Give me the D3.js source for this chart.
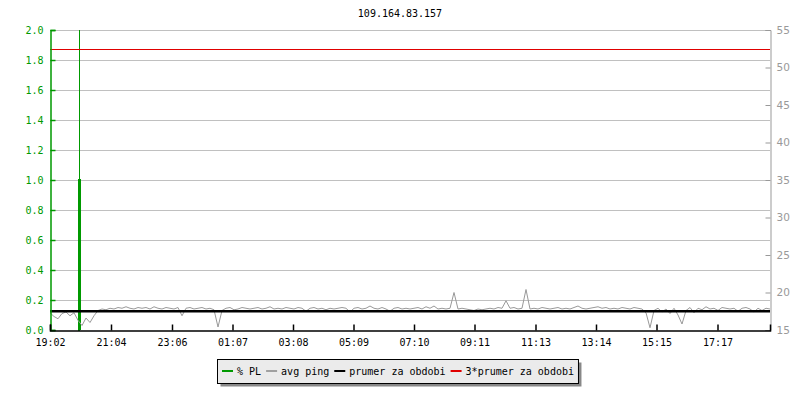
<!DOCTYPE html>
<html>
<head>
<meta charset="utf-8">
<script src="https://cdn.jsdelivr.net/npm/d3@7"></script>
<style>
  body { margin: 0; background: #fff; }
  svg { display: block; }
</style>
</head>
<body>
<svg id="chart"></svg>
<script>
// host being pinged
var title = "109.164.83.157";

// x tick labels (start of graph is 19:02, 24 hours shown)
var timeLabels = ["19:02","21:04","23:06","01:07","03:08","05:09","07:10","09:11","11:13","13:14","15:15","17:17"];

// avg ping in ms, one sample every 8 minutes from start
var pingMs = [
  17.3,16.8,16.5,17.2,17.4,16.9,17.3,16.3,15.6,16.6,16.0,16.9,17.6,17.8,17.7,17.9,17.8,18.0,17.9,18.1,
  17.9,17.8,18.0,17.9,18.0,17.8,18.1,17.9,17.8,18.0,17.9,17.8,18.0,16.9,17.9,18.0,17.8,17.9,18.0,17.8,
  17.9,17.7,15.4,17.6,17.9,18.0,17.7,17.8,18.0,17.9,17.8,17.9,18.0,17.8,17.9,18.1,17.8,17.9,17.8,18.0,
  17.9,17.8,18.0,17.9,17.5,17.9,18.0,17.8,17.9,17.7,17.9,17.8,17.9,18.0,17.9,17.4,17.9,18.0,17.8,17.9,
  18.2,17.9,17.8,18.0,17.8,17.5,17.9,18.0,17.8,17.9,17.8,17.9,18.0,17.8,18.1,17.9,18.2,17.8,17.9,17.8,
  17.9,20.0,17.8,17.9,17.8,17.7,17.6,17.8,17.7,17.8,17.9,17.8,18.0,17.9,18.9,17.9,18.0,17.8,17.9,20.4,
  17.8,17.9,17.8,18.0,17.9,17.8,17.9,18.0,17.8,17.9,17.8,18.0,18.2,17.9,17.8,17.9,18.0,18.1,17.9,18.0,
  17.8,17.9,17.8,18.0,17.9,17.8,18.0,17.9,17.8,17.3,15.3,17.6,17.9,17.4,17.8,17.2,17.9,17.0,15.8,17.6,
  18.0,17.3,17.9,17.7,18.1,17.8,17.9,17.6,18.0,17.9,17.8,17.9,17.5,17.9,18.0,17.8,17.4,17.9,17.6,17.9,
  17.8
];
var pingStep = 8;

// packet loss (fraction) samples: minute, value
var plMinutes = [56, 58, 60];
var plValues  = [0, 1.0, 0];
// total loss event (full height rule)
var plEvents = [58];

var avgPing = 17.49;
var avgPing3 = 52.47;

var legendNames = ["% PL", "avg ping", "prumer za obdobi", "3*prumer za obdobi"];
var legendColors = ["#009900", "#a0a0a0", "#000000", "#e00000"];

var W = 800, H = 400;
var mono = "'DejaVu Sans Mono', monospace";
var fs = "10px";

var svg = d3.select("#chart").attr("width", W).attr("height", H);

var x = d3.scaleLinear().domain([0, 1440]).range([50, 770]);
var yL = d3.scaleLinear().domain([0, 2]).range([330, 30]);
var yR = d3.scaleLinear().domain([15, 55]).range([330, 30]);

svg.append("text")
  .attr("x", 400).attr("y", 17)
  .attr("text-anchor", "middle")
  .style("font-family", mono).style("font-size", fs)
  .text(title);

// grid
var leftTicks = d3.range(0, 11).map(function(i) { return i * 0.2; });
svg.append("g").selectAll("line")
  .data(leftTicks.slice(1))
  .enter().append("line")
  .attr("x1", 50).attr("x2", 770)
  .attr("y1", function(d) { return Math.round(yL(d)) + 0.5; })
  .attr("y2", function(d) { return Math.round(yL(d)) + 0.5; })
  .style("stroke", "#c0c0c0");

// series
var plData = plMinutes.map(function(m, i) { return [m, plValues[i]]; });
svg.append("path")
  .datum(plData)
  .attr("d", d3.line().x(function(d) { return x(d[0]); }).y(function(d) { return yL(d[1]); }).curve(d3.curveStepAfter))
  .style("fill", "none").style("stroke", "#009900").style("stroke-width", 2);

svg.append("g").selectAll("line")
  .data(plEvents)
  .enter().append("line")
  .attr("x1", function(d) { return Math.round(x(d)) + 0.5; })
  .attr("x2", function(d) { return Math.round(x(d)) + 0.5; })
  .attr("y1", yL(2)).attr("y2", yL(0))
  .style("stroke", "#009900");

svg.append("path")
  .datum(pingMs)
  .attr("d", d3.line().x(function(d, i) { return x(i * pingStep); }).y(function(d) { return yR(d); }))
  .style("fill", "none").style("stroke", "#999").style("stroke-width", 1);

svg.append("line")
  .attr("x1", x(0)).attr("x2", x(1440))
  .attr("y1", yR(avgPing)).attr("y2", yR(avgPing))
  .style("stroke", "#000").style("stroke-width", 2.5);

svg.append("line")
  .attr("x1", x(0)).attr("x2", x(1440))
  .attr("y1", Math.round(yR(avgPing3)) + 0.5).attr("y2", Math.round(yR(avgPing3)) + 0.5)
  .style("stroke", "#e00000").style("stroke-width", 1);

// left axis
var gl = svg.append("g").attr("transform", "translate(50.5,0)");
gl.call(d3.axisLeft(yL).tickValues(d3.range(0, 21).map(function(i) { return i * 0.1; }))
  .tickSize(-3).tickFormat(""));
gl.call(d3.axisLeft(yL).tickValues(leftTicks).tickSize(-5).tickPadding(7).tickFormat(d3.format(".1f")));
gl.selectAll("path, line").style("stroke", "#009900").style("stroke-width", 1.5);
gl.selectAll("text").style("fill", "#009900").style("font-family", mono).style("font-size", fs);

// right axis
var gr = svg.append("g").attr("transform", "translate(770.5,0)");
gr.call(d3.axisRight(yR).tickValues(d3.range(15, 56)).tickSize(-3).tickFormat(""));
gr.call(d3.axisRight(yR).tickValues(d3.range(15, 56, 5)).tickSize(-5).tickPadding(6));
gr.selectAll("path, line").style("stroke", "#999");
gr.selectAll("text").style("fill", "#999").style("font-family", "'DejaVu Sans', sans-serif").style("font-size", "10.5px");

// bottom axis
var t0 = 19 * 60 + 2;
var tickMinutes = timeLabels.map(function(s) {
  var p = s.split(":");
  return ((+p[0] * 60 + +p[1]) - t0 + 1440) % 1440;
});
var gb = svg.append("g").attr("transform", "translate(0,330.5)");
gb.call(d3.axisBottom(x).tickValues(tickMinutes).tickSize(-6).tickPadding(8)
  .tickFormat(function(d, i) { return timeLabels[i]; }));
gb.selectAll("path, line").style("stroke", "#000").style("stroke-width", 1.5);
gb.selectAll("text").style("fill", "#000").style("font-family", mono).style("font-size", fs);

// legend
var lg = svg.append("g");
var shadow = lg.append("rect").style("fill", "#888");
var box = lg.append("rect").style("fill", "#ebebeb").style("stroke", "#000");
var cx = 222, ly = 371;
legendNames.forEach(function(name, i) {
  lg.append("line")
    .attr("x1", cx).attr("x2", cx + 11)
    .attr("y1", ly).attr("y2", ly)
    .style("stroke", legendColors[i]).style("stroke-width", 2);
  var t = lg.append("text")
    .attr("x", cx + 15).attr("y", ly + 4)
    .style("font-family", mono).style("font-size", fs)
    .text(name);
  cx += 15 + t.node().getComputedTextLength() + 5;
});
var bx = 217.5, bw = cx - 217 - 1;
box.attr("x", bx).attr("y", 359.5).attr("width", bw).attr("height", 24);
shadow.attr("x", bx + 3).attr("y", 362.5).attr("width", bw).attr("height", 24);
</script>
</body>
</html>
